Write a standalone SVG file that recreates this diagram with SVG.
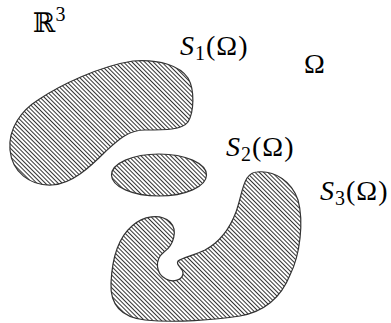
<svg xmlns="http://www.w3.org/2000/svg" width="391" height="323" viewBox="0 0 391 323">
<style>
.lbl{font-family:"Liberation Serif","Times New Roman",serif;font-size:28px;fill:#000;letter-spacing:1px}
.it{font-style:italic}
.sub{font-size:20px}
.blob{fill:url(#hatch);stroke:#333;stroke-width:1.2}
</style>
<defs>
<pattern id="hatch" patternUnits="userSpaceOnUse" width="3" height="3" patternTransform="rotate(45)">
<rect width="3" height="3" fill="#fff"/>
<line x1="0" y1="1.5" x2="3" y2="1.5" stroke="#333" stroke-width="1.05"/>
</pattern>
</defs>
<rect width="391" height="323" fill="#fff"/>
<g id="S1">
<path class="blob" d="M 133,61 C 160,59 180,66 188,78 C 195,90 194,112 188,122 C 182,130 165,130 145,130 C 128,130 118,140 105,152 C 90,167 72,184 52,185 C 30,186 12,172 10,150 C 8,128 22,110 38,100 C 60,85 100,66 133,61 Z"/>
</g>
<g id="S2">
<ellipse class="blob" cx="159" cy="175" rx="47.5" ry="21"/>
</g>
<g id="S3">
<path class="blob" d="M 257,172 C 275,170 292,182 298,200 C 304,222 300,255 290,275 C 280,300 262,312 240,316 C 215,320 175,323 145,320 C 120,317 110,303 111,283 C 112,260 118,238 132,226 C 143,216 160,213 170,222 C 178,230 174,245 164,252 C 154,260 156,274 166,279 C 173,283 183,280 183,273 C 183,268 175,265 178,261 C 182,258 195,255 205,250 C 220,242 230,228 236,212 C 241,198 242,186 247,178 C 250,174 253,172 257,172 Z"/>
</g>
<g id="labels">
<text x="33" y="32" style="font-family:'DejaVu Serif',serif;font-size:27px">ℝ<tspan dy="-11" style="font-family:'Liberation Serif',serif;font-size:20px">3</tspan></text>
<text class="lbl" x="180" y="55"><tspan class="it">S</tspan><tspan class="sub" dy="5">1</tspan><tspan dy="-5">(Ω)</tspan></text>
<text class="lbl" x="304" y="73">Ω</text>
<text class="lbl" x="226" y="156"><tspan class="it">S</tspan><tspan class="sub" dy="5">2</tspan><tspan dy="-5">(Ω)</tspan></text>
<text class="lbl" x="320" y="200"><tspan class="it">S</tspan><tspan class="sub" dy="5">3</tspan><tspan dy="-5">(Ω)</tspan></text>
</g>
</svg>
